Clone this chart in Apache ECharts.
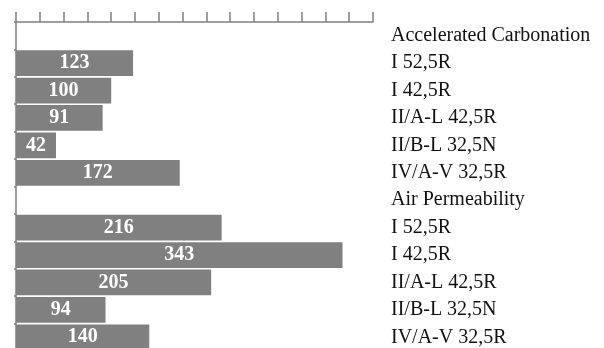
<!DOCTYPE html>
<html>
<head>
<meta charset="utf-8">
<script src="https://cdn.jsdelivr.net/npm/echarts@6/dist/echarts.min.js"></script>
<style>html,body{margin:0;padding:0;background:#fff}#c{width:604px;height:348px}</style>
</head>
<body>
<div id="c"></div>
<script>
const categories = ["Accelerated Carbonation","I 52,5R","I 42,5R","II/A-L 42,5R","II/B-L 32,5N","IV/A-V 32,5R","Air Permeability","I 52,5R","I 42,5R","II/A-L 42,5R","II/B-L 32,5N","IV/A-V 32,5R"];
const values = [null,123,100,91,42,172,null,216,343,205,94,140];
const xMin = 0, xMax = 375, xInterval = 25;

const chart = echarts.init(document.getElementById('c'), null, {renderer:'canvas'});
const axisColor = '#808080';
chart.setOption({
  animation:false,
  grid:{left:16, top:22, right:231, height:329, containLabel:false, outerBoundsMode:'none'},
  xAxis:{type:'value', position:'top', min:xMin, max:xMax, interval:xInterval,
    axisLine:{show:true, lineStyle:{color:axisColor, width:1.5}},
    axisTick:{show:true, length:10, lineStyle:{color:axisColor, width:1.5}},
    axisLabel:{show:false}, splitLine:{show:false}},
  yAxis:[
    {type:'category', data:categories, inverse:true, position:'left',
     axisLine:{show:true, lineStyle:{color:axisColor, width:1.5}},
     axisTick:{show:true, length:2, lineStyle:{color:axisColor, width:1.5}},
     axisLabel:{show:false}},
    {type:'category', data:categories, inverse:true, position:'right',
     axisLine:{show:false}, axisTick:{show:false},
     axisLabel:{show:true, margin:18, color:'#111', fontFamily:'Liberation Serif', fontSize:20, align:'left'}}
  ],
  series:[{type:'bar', data:values, yAxisIndex:0, barCategoryGap:'6%',
    itemStyle:{color:'#808080'},
    label:{show:true, position:'inside', color:'#fff', fontFamily:'Liberation Serif', fontWeight:'bold', fontSize:20,
      formatter:p=>p.value==null?'':String(p.value)}}]
});
</script>
</body>
</html>
